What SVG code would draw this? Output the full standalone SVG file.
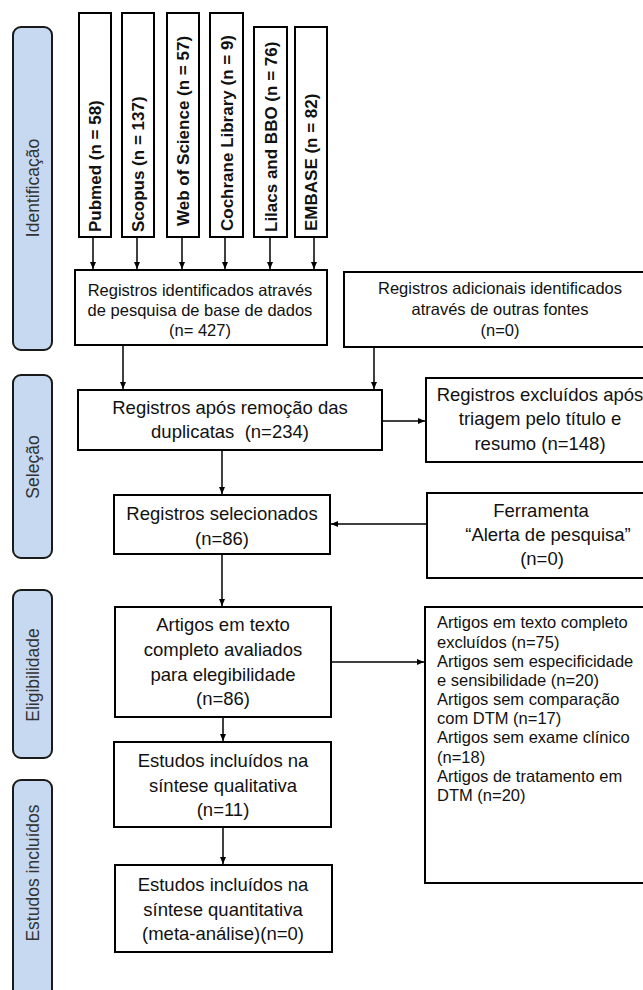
<svg xmlns="http://www.w3.org/2000/svg" width="643" height="990" viewBox="0 0 643 990">
<style>
.box{fill:#fff;stroke:#000;stroke-width:2}
.side{fill:#c6d9f1;stroke:#1a1a1a;stroke-width:2}
.sidet{font-family:"Liberation Sans",Arial,sans-serif;font-size:17.5px;fill:#333;text-anchor:middle}
.db{font-family:"Liberation Sans",Arial,sans-serif;font-size:17px;font-weight:bold;fill:#111}
.s{font-family:"Liberation Sans",Arial,sans-serif;font-size:16.5px;fill:#111;text-anchor:middle}
.l{font-family:"Liberation Sans",Arial,sans-serif;font-size:18.5px;fill:#111;text-anchor:middle}
.ex{font-family:"Liberation Sans",Arial,sans-serif;font-size:16.5px;fill:#111}
.c{stroke:#000;stroke-width:1.5;fill:none;marker-end:url(#ah)}
</style>
<defs>
<marker id="ah" markerUnits="userSpaceOnUse" markerWidth="8" markerHeight="7" refX="7" refY="3" orient="auto">
<path d="M0,0 L7,3 L0,6 z" fill="#000"/>
</marker>
</defs>
<rect width="643" height="990" fill="#fff"/>

<g id="phase-identificacao">
<rect class="side" x="13" y="27" width="39" height="323" rx="8"/>
<text class="sidet" transform="translate(38.5,188) rotate(-90)">Identificação</text>
</g>
<g id="phase-selecao">
<rect class="side" x="13" y="375" width="39" height="183" rx="8"/>
<text class="sidet" transform="translate(38.5,467) rotate(-90)">Seleção</text>
</g>
<g id="phase-elegibilidade">
<rect class="side" x="13" y="590" width="39" height="168" rx="8"/>
<text class="sidet" transform="translate(38.5,675) rotate(-90)">Eligibilidade</text>
</g>
<g id="phase-incluidos">
<rect class="side" x="13" y="780" width="39" height="240" rx="8"/>
<text class="sidet" transform="translate(38.5,873) rotate(-90)">Estudos incluídos</text>
</g>

<g id="db-pubmed">
<rect class="box" x="79" y="13" width="32" height="224"/>
<text class="db" transform="translate(101,232) rotate(-90)">Pubmed (n = 58)</text>
</g>
<g id="db-scopus">
<rect class="box" x="122" y="13" width="32" height="224"/>
<text class="db" transform="translate(144,232) rotate(-90)">Scopus (n = 137)</text>
</g>
<g id="db-wos">
<rect class="box" x="167" y="13" width="32" height="224"/>
<text class="db" transform="translate(189,226) rotate(-90)">Web of Science (n = 57)</text>
</g>
<g id="db-cochrane">
<rect class="box" x="210" y="13" width="33" height="224"/>
<text class="db" transform="translate(232.5,231) rotate(-90)">Cochrane Library (n = 9)</text>
</g>
<g id="db-lilacs">
<rect class="box" x="254" y="27" width="33" height="210"/>
<text class="db" transform="translate(276.5,232) rotate(-90)">Lilacs and BBO (n = 76)</text>
</g>
<g id="db-embase">
<rect class="box" x="295" y="27" width="32" height="210"/>
<text class="db" transform="translate(317,231) rotate(-90)">EMBASE (n = 82)</text>
</g>

<g id="n-identificados">
<rect class="box" x="75" y="270" width="252" height="75"/>
<text class="s" x="200" y="296">Registros identificados através</text>
<text class="s" x="200" y="316">de pesquisa de base de dados</text>
<text class="s" x="200" y="336">(n= 427)</text>
</g>
<g id="n-adicionais">
<rect class="box" x="344" y="272" width="312" height="75"/>
<text class="s" x="500" y="294">Registros adicionais identificados</text>
<text class="s" x="500" y="315">através de outras fontes</text>
<text class="s" x="500" y="336">(n=0)</text>
</g>
<g id="n-apos">
<rect class="box" x="78" y="390" width="304" height="60"/>
<text class="l" x="230" y="414">Registros após remoção das</text>
<text class="l" x="230" y="438" xml:space="preserve">duplicatas  (n=234)</text>
</g>
<g id="n-excluidos">
<rect class="box" x="426" y="378" width="228" height="84"/>
<text class="l" x="540" y="401">Registros excluídos após</text>
<text class="l" x="540" y="425">triagem pelo título e</text>
<text class="l" x="540" y="450">resumo (n=148)</text>
</g>
<g id="n-selecionados">
<rect class="box" x="114" y="495" width="216" height="59"/>
<text class="l" x="222" y="520">Registros selecionados</text>
<text class="l" x="222" y="545">(n=86)</text>
</g>
<g id="n-ferramenta">
<rect class="box" x="427" y="493" width="230" height="85"/>
<text class="l" x="541" y="517">Ferramenta</text>
<text class="l" x="548" y="541">“Alerta de pesquisa”</text>
<text class="l" x="542" y="565">(n=0)</text>
</g>
<g id="n-artigos">
<rect class="box" x="115" y="607" width="216" height="110"/>
<text class="l" x="223" y="631">Artigos em texto</text>
<text class="l" x="223" y="656">completo avaliados</text>
<text class="l" x="223" y="681">para elegibilidade</text>
<text class="l" x="223" y="705">(n=86)</text>
</g>
<g id="n-exclusoes">
<rect class="box" x="425" y="607" width="235" height="276"/>
<text class="ex" x="437" y="628">Artigos em texto completo</text>
<text class="ex" x="437" y="647.5">excluídos (n=75)</text>
<text class="ex" x="437" y="666.7">Artigos sem especificidade</text>
<text class="ex" x="437" y="686">e sensibilidade (n=20)</text>
<text class="ex" x="437" y="705">Artigos sem comparação</text>
<text class="ex" x="437" y="724.3">com DTM (n=17)</text>
<text class="ex" x="437" y="743.3">Artigos sem exame clínico</text>
<text class="ex" x="437" y="762.7">(n=18)</text>
<text class="ex" x="437" y="781.7">Artigos de tratamento em</text>
<text class="ex" x="437" y="801">DTM (n=20)</text>
</g>
<g id="n-qualitativa">
<rect class="box" x="114" y="742" width="217" height="85"/>
<text class="l" x="223" y="767">Estudos incluídos na</text>
<text class="l" x="223" y="792">síntese qualitativa</text>
<text class="l" x="223" y="816">(n=11)</text>
</g>
<g id="n-quantitativa">
<rect class="box" x="115" y="865" width="217" height="87"/>
<text class="l" x="223" y="891">Estudos incluídos na</text>
<text class="l" x="223" y="916">síntese quantitativa</text>
<text class="l" x="223" y="940">(meta-análise)(n=0)</text>
</g>

<g id="connectors">
<line class="c" x1="93" y1="237" x2="93" y2="269"/>
<line class="c" x1="137" y1="237" x2="137" y2="269"/>
<line class="c" x1="182" y1="237" x2="182" y2="269"/>
<line class="c" x1="225" y1="237" x2="225" y2="269"/>
<line class="c" x1="270" y1="237" x2="270" y2="269"/>
<line class="c" x1="314" y1="237" x2="314" y2="269"/>
<line class="c" x1="123" y1="345" x2="123" y2="389"/>
<line class="c" x1="374" y1="347" x2="374" y2="389"/>
<line class="c" x1="382" y1="421" x2="425" y2="421"/>
<line class="c" x1="222" y1="450" x2="222" y2="494"/>
<line class="c" x1="427" y1="524" x2="331" y2="524"/>
<line class="c" x1="222" y1="554" x2="222" y2="606"/>
<line class="c" x1="331" y1="662" x2="424" y2="662"/>
<line class="c" x1="223" y1="717" x2="223" y2="741"/>
<line class="c" x1="223" y1="827" x2="223" y2="864"/>
</g>
</svg>
